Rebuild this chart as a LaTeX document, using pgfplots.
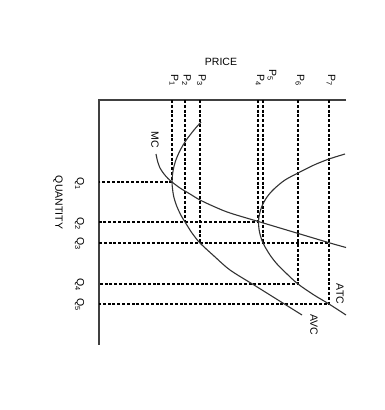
\documentclass[border=0pt]{standalone}
\usepackage{pgfplots}
\pgfplotsset{compat=1.18}
\usepackage{fontspec}
\setmainfont{Liberation Sans}
\tikzset{lab/.style={font=\fontsize{10.5}{12}\selectfont, inner sep=0pt}}
\pgfplotsset{guide/.style={black, line width=1.5pt, dash pattern=on 3pt off 1.8pt}}

\begin{document}
\begin{tikzpicture}
\begin{axis}[
  scale only axis, width=384pt, height=410pt,
  xmin=0, xmax=384, ymin=0, ymax=410, y dir=reverse,
  hide axis, clip=false,
]
% frame for the bounding box
\addplot[draw=none] coordinates {(0,0) (384,410)};
% axes (price to the right, quantity downward)
\addplot[black!75, line width=1.6pt] coordinates {(346,100) (99,100) (99,345)};
% dashed guide lines
\addplot[guide] coordinates {(172,100) (172,182) (99,182)};
\addplot[guide] coordinates {(185,100) (185,222)};
\addplot[guide] coordinates {(200,100) (200,243)};
\addplot[guide] coordinates {(258,100) (258,222) (99,222)};
\addplot[guide] coordinates {(263,100) (263,243)};
\addplot[guide] coordinates {(298,100) (298,284) (99,284)};
\addplot[guide] coordinates {(329,100) (329,304) (99,304)};
\addplot[guide] coordinates {(99,243) (329,243)};
% MC
\addplot[black!80, line width=1.1pt, smooth] coordinates {
(156,154) (157.5,161) (160,168) (164,174) (168,178.5) (172,182) (180,188)
(190,194) (200,200) (215,207) (230,213) (260,222) (300,234) (330,243) (346,247.5)};
% AVC
\addplot[black!80, line width=1.1pt, smooth] coordinates {
(201,122) (194,130) (186.3,140) (180.3,150) (175.9,160) (173.2,170) (172,182)
(173.4,195) (176.3,205) (180.8,215) (185,222) (192,233) (200,243) (214,256)
(230,270) (254,285) (278,300) (302,315)};
% ATC
\addplot[black!80, line width=1.1pt, smooth] coordinates {
(345,154) (329,159) (314,165) (299,172.5) (285,180) (274,189) (267,197)
(262,206) (259.5,214) (258.5,222) (259.5,232) (263,243) (270,255) (277,264)
(287,274) (298,284) (314,295) (329,304) (346,315)};
% labels
\node[lab] at (axis cs:221,61.5) {PRICE};
\node[lab, rotate=-90] at (axis cs:58,202.5) {QUANTITY};
\node[lab, rotate=-90] at (axis cs:174,80.5) {P\textsubscript{1}};
\node[lab, rotate=-90] at (axis cs:186.5,80.5) {P\textsubscript{2}};
\node[lab, rotate=-90] at (axis cs:201.5,80.5) {P\textsubscript{3}};
\node[lab, rotate=-90] at (axis cs:260,80.5) {P\textsubscript{4}};
\node[lab, rotate=-90] at (axis cs:272,75) {P\textsubscript{5}};
\node[lab, rotate=-90] at (axis cs:300,80.5) {P\textsubscript{6}};
\node[lab, rotate=-90] at (axis cs:331,80.5) {P\textsubscript{7}};
\node[lab, rotate=-90] at (axis cs:79.5,183.5) {Q\textsubscript{1}};
\node[lab, rotate=-90] at (axis cs:79.5,223.5) {Q\textsubscript{2}};
\node[lab, rotate=-90] at (axis cs:79.5,244) {Q\textsubscript{3}};
\node[lab, rotate=-90] at (axis cs:79.5,284.5) {Q\textsubscript{4}};
\node[lab, rotate=-90] at (axis cs:79.5,304.5) {Q\textsubscript{5}};
\node[lab, rotate=-90] at (axis cs:155,140) {MC};
\node[lab, rotate=-90] at (axis cs:340,294) {ATC};
\node[lab, rotate=-90] at (axis cs:314,325) {AVC};
\end{axis}
\end{tikzpicture}
\end{document}
